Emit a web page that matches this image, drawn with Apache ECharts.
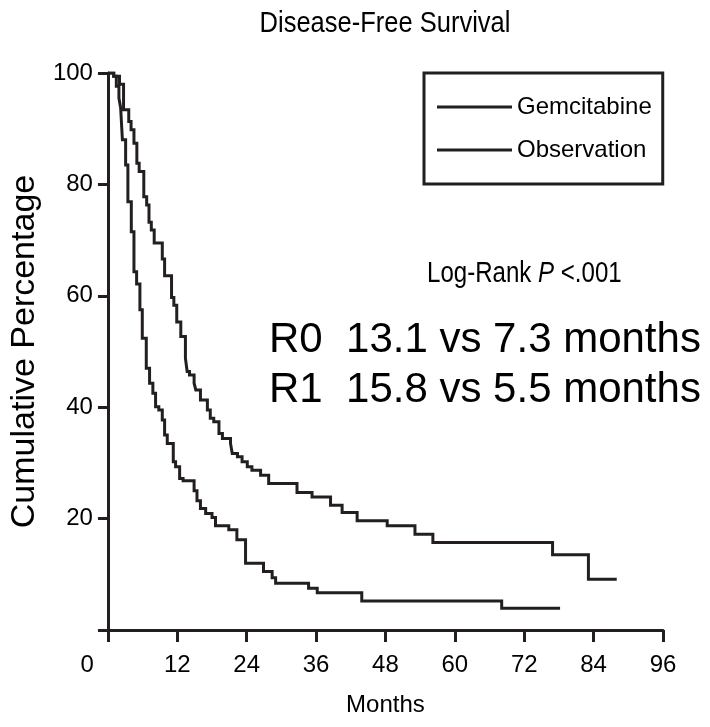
<!DOCTYPE html>
<html>
<head>
<meta charset="utf-8">
<title>Disease-Free Survival</title>
<script src="https://cdn.jsdelivr.net/npm/echarts@6/dist/echarts.min.js"></script>
<style>
  html, body { margin: 0; padding: 0; background: #fff; }
  #chart { width: 710px; height: 727px; }
</style>
</head>
<body>
<div id="chart"></div>
<script>
// Kaplan-Meier disease-free survival, months vs cumulative percentage
const seriesNames = ['Gemcitabine', 'Observation'];

const gemcitabineMonths = [0, 1.0, 2.0, 2.7, 3.6, 4.0, 4.5, 5.0, 5.4, 6.2, 6.7, 7.1, 7.5, 8.0, 9.4, 9.8, 11.0, 11.4, 11.9, 12.6, 13.4, 13.7, 14.1, 14.9, 15.2, 16.0, 17.2, 17.7, 18.3, 19.2, 19.8, 21.2, 21.5, 22.4, 23.2, 24.1, 24.9, 26.4, 27.8, 32.7, 35.3, 38.5, 40.5, 43.1, 48.3, 53.1, 56.2, 76.9, 83.1, 88.0];
const gemcitabineSurvival = [100, 99.4, 98.0, 93.4, 91.3, 89.8, 87.4, 83.8, 82.3, 77.8, 76.3, 73.2, 71.8, 69.5, 66.6, 63.6, 59.7, 58.3, 55.3, 52.7, 48.8, 46.4, 45.8, 44.3, 43.1, 41.3, 39.5, 38.0, 37.4, 35.3, 34.4, 33.5, 31.7, 31.1, 30.2, 29.3, 28.7, 27.8, 26.3, 24.7, 23.9, 22.4, 21.1, 19.6, 18.7, 17.2, 15.7, 13.5, 9.1, 9.1];

const observationMonths = [0, 1.0, 1.45, 1.9, 2.2, 2.5, 3.06, 3.45, 4.04, 4.5, 4.96, 5.53, 5.94, 6.63, 7.2, 7.77, 8.24, 8.8, 9.4, 9.8, 10.26, 11.3, 11.7, 12.4, 13.0, 14.9, 15.4, 16.0, 16.9, 18.0, 18.6, 20.9, 22.3, 23.8, 26.9, 28.4, 29.0, 34.7, 36.2, 43.9, 68.1, 78.2];
const observationSurvival = [100, 99.4, 97.6, 95.5, 93.7, 88.0, 83.5, 76.9, 71.5, 64.3, 62.1, 57.5, 52.4, 47.0, 44.3, 42.5, 40.1, 39.5, 37.7, 35.0, 33.5, 30.2, 29.3, 27.2, 26.8, 25.0, 23.2, 21.8, 20.9, 20.2, 18.7, 18.0, 16.2, 12.0, 10.5, 9.4, 8.4, 7.5, 6.7, 5.2, 3.9, 3.9];

const xTicks = [0, 12, 24, 36, 48, 60, 72, 84, 96];
const yTicks = [0, 20, 40, 60, 80, 100];

const chartTitle = 'Disease-Free Survival';
const annotationLines = ['R0  13.1 vs 7.3 months', 'R1  15.8 vs 5.5 months'];

const INK = '#231f20';
const SANS = '"Liberation Sans", Arial, Helvetica, sans-serif';

function zip(xs, ys) { return xs.map((x, i) => [x, ys[i]]); }

const chart = echarts.init(document.getElementById('chart'), null, { renderer: 'canvas' });

const option = {
  animation: false,
  backgroundColor: '#fff',
  legend: {
    data: seriesNames,
    orient: 'vertical',
    left: 424,
    top: 73,
    icon: 'rect',
    itemWidth: 75,
    itemHeight: 3,
    itemGap: 15,
    padding: [20, 11, 20, 13],
    borderColor: INK,
    borderWidth: 3,
    backgroundColor: '#fff',
    selectedMode: false,
    itemStyle: { color: INK, borderWidth: 0 },
    textStyle: { fontFamily: SANS, fontSize: 24, color: '#000', lineHeight: 28 }
  },
  grid: { left: 107, right: 47, top: 73, bottom: 97, containLabel: false },
  xAxis: {
    type: 'value',
    min: xTicks[0],
    max: xTicks[xTicks.length - 1],
    interval: 12,
    name: 'Months',
    nameLocation: 'middle',
    nameGap: 63,
    nameTextStyle: { fontFamily: SANS, fontSize: 24, color: '#000' },
    splitLine: { show: false },
    axisLine: { show: true, onZero: false, lineStyle: { color: INK, width: 3 } },
    axisTick: { show: true, length: 12, lineStyle: { color: INK, width: 3 } },
    axisLabel: {
      margin: 23,
      fontFamily: SANS,
      fontSize: 24,
      color: '#000',
      alignMinLabel: 'right',
      formatter: v => (v === 0 ? '{z|0}' : String(v)),
      rich: { z: { fontFamily: SANS, fontSize: 24, color: '#000', padding: [0, 14, 0, 0] } }
    }
  },
  yAxis: {
    type: 'value',
    min: yTicks[0],
    max: yTicks[yTicks.length - 1],
    interval: 20,
    name: 'Cumulative Percentage',
    nameLocation: 'middle',
    nameGap: 52,
    nameRotate: 90,
    nameTextStyle: { fontFamily: SANS, fontSize: 34, color: '#000' },
    splitLine: { show: false },
    axisLine: { show: true, onZero: false, lineStyle: { color: INK, width: 3 } },
    axisTick: { show: true, length: 10, lineStyle: { color: INK, width: 3 } },
    axisLabel: {
      margin: 15,
      fontFamily: SANS,
      fontSize: 24,
      color: '#000',
      formatter: v => (v === 0 ? '' : String(v))
    }
  },
  series: [
    {
      name: seriesNames[0],
      type: 'line',
      step: 'end',
      symbol: 'none',
      data: zip(gemcitabineMonths, gemcitabineSurvival),
      lineStyle: { color: INK, width: 3, join: 'miter', cap: 'butt' },
      itemStyle: { color: INK },
      z: 3
    },
    {
      name: seriesNames[1],
      type: 'line',
      step: 'end',
      symbol: 'none',
      data: zip(observationMonths, observationSurvival),
      lineStyle: { color: INK, width: 3, join: 'miter', cap: 'butt' },
      itemStyle: { color: INK },
      z: 3
    }
  ],
  graphic: [
    {
      // chart title, set in a condensed face above the plot area
      type: 'text',
      x: 385,
      y: 24,
      scaleX: 0.85,
      style: {
        text: chartTitle,
        fontFamily: SANS,
        fontSize: 30,
        fill: '#000',
        textAlign: 'center',
        textVerticalAlign: 'middle'
      }
    },
    {
      type: 'text',
      x: 427,
      y: 274,
      scaleX: 0.83,
      style: {
        text: '{n|Log-Rank }{i|P}{n| <.001}',
        textAlign: 'left',
        textVerticalAlign: 'middle',
        rich: {
          n: { fontFamily: SANS, fontSize: 29, color: '#000' },
          i: { fontFamily: SANS, fontSize: 29, fontStyle: 'italic', color: '#000' }
        }
      }
    },
    {
      type: 'text',
      x: 269,
      y: 340,
      style: {
        text: annotationLines[0],
        fontFamily: SANS,
        fontSize: 42,
        fill: '#000',
        textAlign: 'left',
        textVerticalAlign: 'middle'
      }
    },
    {
      type: 'text',
      x: 269,
      y: 390,
      style: {
        text: annotationLines[1],
        fontFamily: SANS,
        fontSize: 42,
        fill: '#000',
        textAlign: 'left',
        textVerticalAlign: 'middle'
      }
    }
  ]
};

chart.setOption(option);
</script>
</body>
</html>
